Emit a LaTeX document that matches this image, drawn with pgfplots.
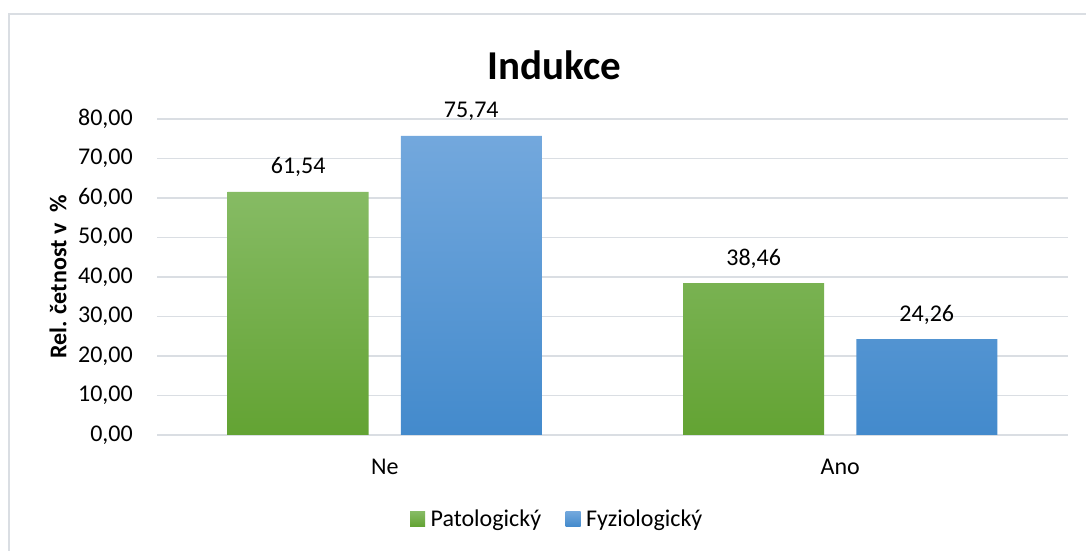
\documentclass[border=0pt]{standalone}
\usepackage{fontspec}
\setmainfont{Carlito}
\usepackage{pgfplots}
\pgfplotsset{compat=1.18}
\definecolor{gridc}{RGB}{218,222,227}
\definecolor{greentop}{RGB}{134,187,100}
\definecolor{greenbot}{RGB}{99,163,51}
\definecolor{bluetop}{RGB}{115,168,221}
\definecolor{bluebot}{RGB}{67,138,204}
\newcommand{\lbl}{\fontsize{24}{28}\selectfont}

\begin{document}
\begin{tikzpicture}
  \useasboundingbox (0,0) rectangle (1086pt,551pt);
  % chart frame (right and bottom edges fall outside the picture)
  \draw[gridc, line width=1.5pt] (9pt,0pt) -- (9pt,537pt) -- (1086pt,537pt);
  \begin{axis}[
      at={(157pt,116pt)}, anchor=south west,
      width=911pt, height=316pt, scale only axis,
      xmin=-0.5, xmax=1.5,
      ymin=0, ymax=80,
      ytick={0,10,...,80},
      xtick={0,1}, xticklabels={Ne,Ano},
      ymajorgrids,
      grid style={gridc, line width=1.8pt},
      axis line style={draw=none},
      major tick length=0pt,
      clip=false,
      ticklabel style={font=\lbl, inner sep=0pt},
      yticklabel style={anchor=east, xshift=-24pt,
        /pgf/number format/.cd, fixed, fixed zerofill, precision=2,
        use comma, assume math mode=true},
      xticklabel style={anchor=base, yshift=-40pt},
      ybar, bar width=0.3095,
      nodes near coords={\pgfmathprintnumber[fixed,fixed zerofill,precision=2,use comma,assume math mode=true]{\pgfplotspointmeta}},
      nodes near coords style={font=\lbl, anchor=base, inner sep=0pt, yshift=18pt},
      legend columns=2,
      legend style={at={(0.4396,-0.2658)}, anchor=center, draw=none,
        font=\lbl, inner sep=0pt,
        nodes={inner sep=2.5pt},
        /tikz/every even column/.append style={column sep=22pt}},
      legend image code/.code={%
        \path[#1, draw=none] (0pt,-7.5pt) rectangle (15pt,7.5pt);
        \path (0pt,0pt) -- (18pt,0pt);},
    ]
    \addplot[bar shift=-0.19, draw=none, top color=greentop, bottom color=greenbot]
      coordinates {(0,61.54) (1,38.46)};
    \addlegendentry{Patologický}
    \addplot[bar shift=0.19, draw=none, top color=bluetop, bottom color=bluebot]
      coordinates {(0,75.74) (1,24.26)};
    \addlegendentry{Fyziologický}
  \end{axis}
  \node[anchor=base, font=\fontsize{41}{48}\selectfont\bfseries] at (554pt,471pt) {Indukce};
  \node[rotate=90, font=\lbl\bfseries] at (58pt,274pt) {Rel. četnost v\ \ \%};
\end{tikzpicture}
\end{document}
